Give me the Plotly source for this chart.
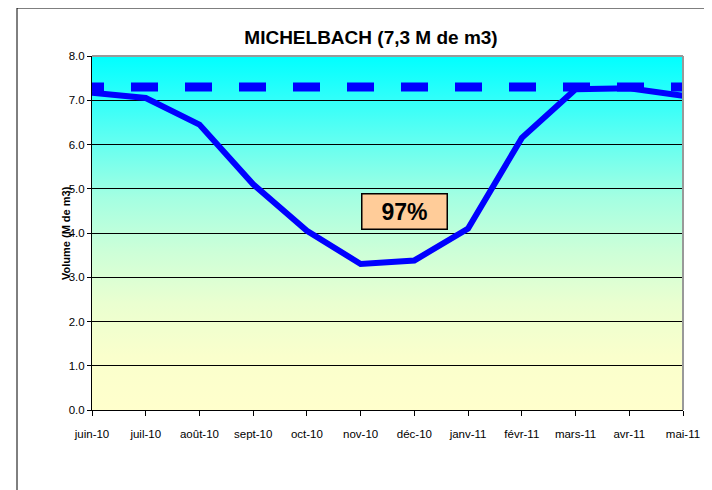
import base64
import plotly.graph_objects as go

months = ["juin-10", "juil-10", "août-10", "sept-10", "oct-10", "nov-10",
          "déc-10", "janv-11", "févr-11", "mars-11", "avr-11", "mai-11"]
volumes = [7.17, 7.05, 6.45, 5.1, 4.05, 3.3, 3.38, 4.1, 6.15, 7.25, 7.27, 7.1]
capacity = 7.3
fill_label = "97%"
y_ticks = [0, 1, 2, 3, 4, 5, 6, 7, 8]

xs = list(range(len(months)))

OFF = 8  # page body margin
W, H = 712, 490
px_left, px_top, px_right, px_bottom = 92 - OFF, 56 - OFF, 683 - OFF, 410 - OFF
L, R, T, B = px_left, W - px_right, px_top, H - px_bottom
pw, ph = W - L - R, H - T - B

svg = ('<svg xmlns="http://www.w3.org/2000/svg" width="100" height="100" preserveAspectRatio="none">'
       '<defs><linearGradient id="g" x1="0" y1="0" x2="0" y2="1">'
       '<stop offset="0" stop-color="#00FFFF"/>'
       '<stop offset="0.12" stop-color="#30FFFA"/>'
       '<stop offset="0.25" stop-color="#66FFF0"/>'
       '<stop offset="0.4" stop-color="#A4FFE2"/>'
       '<stop offset="0.55" stop-color="#CCFFD8"/>'
       '<stop offset="0.7" stop-color="#EAFFD0"/>'
       '<stop offset="0.85" stop-color="#FAFFCC"/>'
       '<stop offset="1" stop-color="#FFFFCC"/>'
       '</linearGradient></defs>'
       '<rect x="0" y="0" width="100" height="100" fill="url(#g)"/></svg>')
src = "data:image/svg+xml;base64," + base64.b64encode(svg.encode()).decode()

dash = "12px," + ",".join(["27px"] * 30)

fig = go.Figure()
fig.add_trace(go.Scatter(x=[xs[0], xs[-1]], y=[capacity, capacity], mode="lines",
                         line=dict(color="#0000FF", width=9, dash=dash),
                         hoverinfo="skip", showlegend=False))
fig.add_trace(go.Scatter(x=xs, y=volumes, mode="lines",
                         line=dict(color="#0000FF", width=6),
                         showlegend=False))

fig.add_layout_image(dict(source=src, xref="x", yref="y", x=0, y=8, sizex=11, sizey=8,
                          sizing="stretch", layer="below", xanchor="left", yanchor="top"))

font = "Liberation Sans, Arial, sans-serif"
fig.update_layout(
    width=W, height=H,
    margin=dict(l=L, r=R, t=T, b=B),
    paper_bgcolor="white",
    plot_bgcolor="rgba(0,0,0,0)",
    font=dict(family=font, size=11, color="black"),
    title=dict(text="<b>MICHELBACH (7,3 M de m3)</b>", x=(371 - OFF) / W, xanchor="center",
               y=1 - (37 - OFF) / H, yanchor="middle", font=dict(size=19, family=font, color="black")),
    xaxis=dict(range=[0, 11], tickmode="array", tickvals=xs, ticktext=months,
               showgrid=False, zeroline=False, showline=True, linecolor="black", linewidth=1,
               ticks="outside", ticklen=5, tickcolor="black", tickfont=dict(size=11.5),
               ticklabelstandoff=8),
    yaxis=dict(range=[0, 8], tickvals=y_ticks, tickformat=".1f",
               showgrid=True, gridcolor="black", gridwidth=1, zeroline=False,
               showline=True, linecolor="black", linewidth=1,
               ticks="outside", ticklen=4, tickcolor="black", tickfont=dict(size=11.5)),
    showlegend=False,
)

# plot-area border (gray, top/right)
fig.add_shape(type="line", xref="paper", yref="paper", x0=0, x1=1, y0=1, y1=1,
              line=dict(color="#999999", width=2))
fig.add_shape(type="line", xref="paper", yref="paper", x0=1, x1=1, y0=0, y1=1,
              line=dict(color="#999999", width=2))
# outer chart border
fig.add_shape(type="rect", xref="paper", yref="paper",
              x0=(17 - OFF - L) / pw, x1=1.3, y0=-0.5, y1=1 + (T - (8 - OFF)) / ph,
              line=dict(color="black", width=1), fillcolor="rgba(0,0,0,0)")

# y-axis title overlapping tick labels
fig.add_annotation(text="<b>Volume (M de m3)</b>", xref="paper", yref="paper",
                   x=(66 - OFF - L) / pw, y=1 - (233 - OFF - T) / ph, textangle=-90, showarrow=False,
                   font=dict(size=11, family=font, color="black"),
                   xanchor="center", yanchor="middle")

# fill-rate label box
fig.add_annotation(text="<b>" + fill_label + "</b>", xref="paper", yref="paper",
                   x=(404 - OFF - L) / pw, y=1 - (212 - OFF - T) / ph, showarrow=False,
                   font=dict(size=23, family=font, color="black"),
                   bgcolor="#FFCC99", bordercolor="black", borderwidth=1.5,
                   borderpad=3, width=78, height=28,
                   xanchor="center", yanchor="middle")

fig.write_html("out.html")
